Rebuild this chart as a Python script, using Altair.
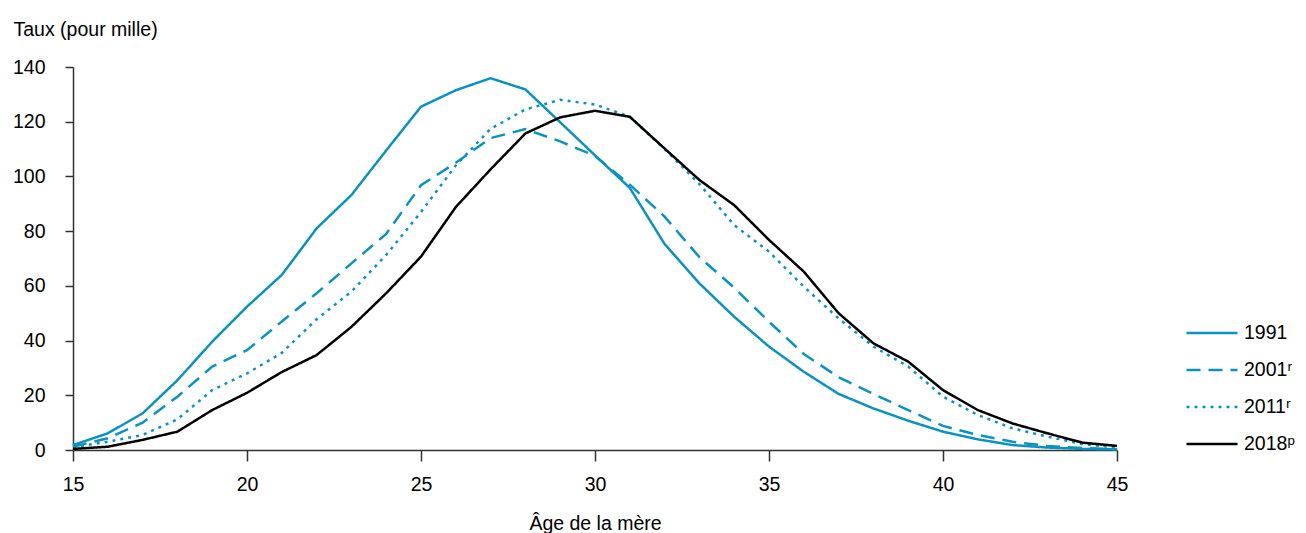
import altair as alt
import pandas as pd

ages = list(range(15, 46))
series_names = ["1991", "2001ʳ", "2011ʳ", "2018ᵖ"]

v1991 = [1.8, 6.1, 13.4, 25.5, 39.6, 52.4, 64.0, 81.0, 93.2, 109.5, 125.5, 131.5, 135.9, 131.8, 119.8,
         107.7, 95.8, 75.3, 60.9, 48.7, 37.8, 28.6, 20.5, 15.2, 10.7, 6.7, 3.9, 1.8, 0.9, 0.4, 0.2]
v2001 = [1.2, 4.3, 10.0, 19.5, 30.5, 36.5, 47.0, 57.3, 68.2, 79.0, 96.8, 105.0, 114.0, 117.3, 112.8,
         107.5, 97.0, 85.3, 70.5, 59.3, 46.9, 35.1, 26.6, 20.5, 14.6, 8.8, 5.5, 3.0, 1.5, 0.7, 0.3]
v2011 = [1.0, 3.0, 5.5, 11.2, 21.9, 28.0, 35.5, 47.8, 57.9, 71.3, 87.0, 104.0, 117.4, 124.5, 128.0,
         126.3, 121.8, 110.0, 97.2, 82.2, 72.5, 59.7, 48.1, 37.8, 30.5, 19.5, 12.8, 7.9, 4.9, 2.2, 0.8]
v2018 = [0.4, 1.2, 3.7, 6.7, 14.6, 20.9, 28.5, 34.7, 45.0, 57.3, 70.7, 88.8, 102.6, 115.7, 121.6,
         124.0, 121.8, 110.2, 98.7, 89.5, 76.8, 65.2, 50.0, 39.0, 32.3, 21.9, 14.6, 9.7, 6.1, 2.7, 1.5]

x_ticks = [15, 20, 25, 30, 35, 40, 45]
y_ticks = [0, 20, 40, 60, 80, 100, 120, 140]

rows = []
for name, vals in zip(series_names, [v1991, v2001, v2011, v2018]):
    for a, v in zip(ages, vals):
        rows.append({"age": a, "taux": v, "serie": name})
df = pd.DataFrame(rows)

FONT = "Liberation Sans, Arial, sans-serif"
FS = 19.5
BLUE = "#0a92c2"

chart = alt.Chart(df).mark_line(strokeWidth=2.5).encode(
    x=alt.X("age:Q",
            scale=alt.Scale(domain=[15, 45], nice=False, zero=False),
            axis=alt.Axis(values=x_ticks, title="Âge de la mère", grid=False,
                          tickSize=11, labelPadding=14, titleY=79, labelFlush=False,
                          titleBaseline="alphabetic")),
    y=alt.Y("taux:Q",
            scale=alt.Scale(domain=[0, 140], nice=False),
            axis=alt.Axis(values=y_ticks, title="Taux (pour mille)", grid=False,
                          tickSize=8, labelPadding=20, titleAngle=0, labelFlush=False,
                          titleX=-60, titleY=-38, titleAlign="left",
                          titleBaseline="middle")),
    color=alt.Color("serie:N",
                    scale=alt.Scale(domain=series_names, range=[BLUE, BLUE, BLUE, "#000000"]),
                    legend=alt.Legend(title=None, orient="none", legendX=1112, legendY=239,
                                      symbolType="stroke", symbolSize=2601,
                                      symbolStrokeWidth=2.5, labelFontSize=FS,
                                      labelOffset=5, rowPadding=-16.5, padding=0,
                                      labelFont=FONT, labelColor="#000000")),
    strokeDash=alt.StrokeDash("serie:N",
                              scale=alt.Scale(domain=series_names,
                                              range=[[1, 0], [14, 8], [3, 5], [1, 0]]),
                              legend=alt.Legend(title=None)),
    order=alt.Order("age:Q"),
).properties(
    width=1044,
    height=383,
    autosize=alt.AutoSizeParams(type="none"),
    padding={"left": 65, "top": 59, "right": 181, "bottom": 85},
).configure_view(
    stroke=None
).configure_axis(
    labelFont=FONT, titleFont=FONT, labelFontSize=FS, titleFontSize=FS,
    titleFontWeight="normal", labelColor="#000000", titleColor="#000000",
    domainColor="#333333", tickColor="#333333", domainWidth=1.5, tickWidth=1.5
)

chart.save("out.html", embed_options={"renderer": "svg", "actions": False})
